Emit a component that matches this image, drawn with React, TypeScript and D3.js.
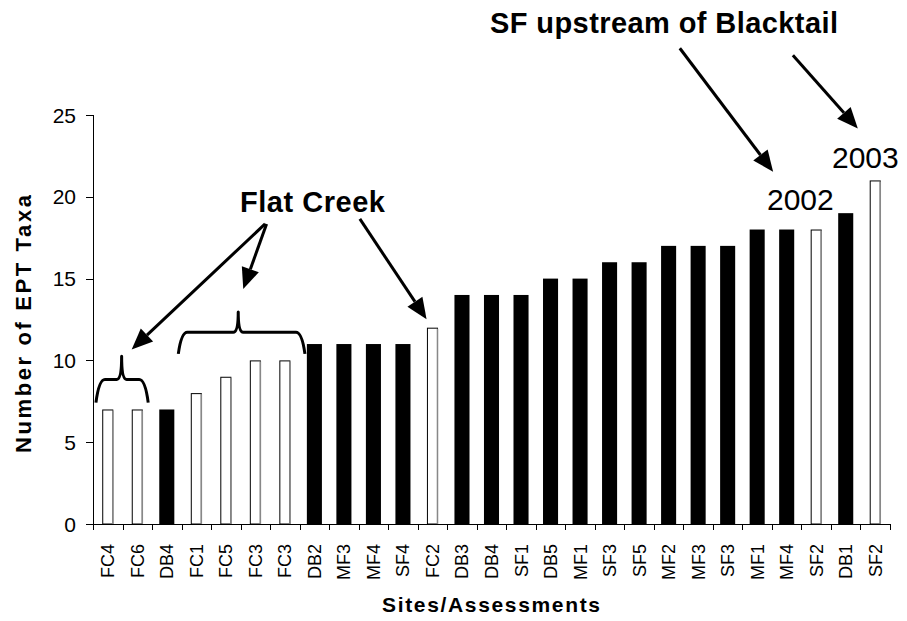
import React, { useEffect, useRef } from 'react';
import * as d3 from 'd3';

// sites in the order drawn, with EPT taxa counts
const sites = ['FC4', 'FC6', 'DB4', 'FC1', 'FC5', 'FC3', 'FC3', 'DB2', 'MF3', 'MF4', 'SF4', 'FC2', 'DB3', 'DB4', 'SF1', 'DB5', 'MF1', 'SF3', 'SF5', 'MF2', 'MF3', 'SF3', 'MF1', 'MF4', 'SF2', 'DB1', 'SF2'];
const taxa = [7, 7, 7, 8, 9, 10, 10, 11, 11, 11, 11, 12, 14, 14, 14, 15, 15, 16, 16, 17, 17, 17, 18, 18, 18, 19, 21];
// open (white) bars mark Flat Creek and SF upstream of Blacktail
const highlighted = [true, true, false, true, true, true, true, false, false, false, false, true, false, false, false, false, false, false, false, false, false, false, false, false, true, false, true];
const yTicks = [0, 5, 10, 15, 20, 25];

// annotation geometry in data units (category position, taxa count)
const braces = [
  { x0: 0.1, x1: 1.87, xm: 0.97, leg: 7.42, arm: 8.83, tip: 10.25 },
  { x0: 2.89, x1: 7.18, xm: 4.92, leg: 10.4, arm: 11.72, tip: 12.96 },
];
const arrows = [
  { from: [5.83, 18.34], to: [1.31, 10.67] },
  { from: [5.88, 18.34], to: [5.09, 14.36] },
  { from: [9.04, 18.65], to: [11.3, 12.52] },
  { from: [19.88, 29.08], to: [23.04, 21.53] },
  { from: [23.71, 28.65], to: [25.91, 24.17] },
];

const FONT = '"Liberation Sans", Arial, sans-serif';

const App = () => {
  const svgRef = useRef(null);

  useEffect(() => {
    const svg = d3.select(svgRef.current);
    svg.selectAll('*').remove();

    const left = 93, right = 890, top = 115, bottom = 524;

    const x = d3.scaleBand<number>()
      .domain(d3.range(sites.length))
      .range([left, right])
      .paddingInner(0.49)
      .paddingOuter(0.245);
    const xc = d3.scaleLinear().domain([0, sites.length]).range([left, right]);
    const y = d3.scaleLinear().domain([0, 25]).range([bottom, top]);

    // bars
    const bw = x.bandwidth();
    sites.forEach((s, i) => {
      const v = taxa[i];
      if (highlighted[i]) {
        const x0 = x(i) + 2;
        const w = bw - 4;
        svg.append('rect')
          .attr('x', x0 + 0.5).attr('y', y(v) + 0.5)
          .attr('width', w - 1).attr('height', bottom - y(v) - 0.5)
          .attr('fill', '#fff').attr('stroke', '#000').attr('stroke-width', 1);
        svg.append('line')
          .attr('x1', x0 + w - 0.5).attr('x2', x0 + w - 0.5)
          .attr('y1', y(v) + 1).attr('y2', bottom)
          .attr('stroke', '#888').attr('stroke-width', 1.5);
      } else {
        svg.append('rect')
          .attr('x', x(i)).attr('y', y(v))
          .attr('width', bw).attr('height', bottom - y(v))
          .attr('fill', '#000');
      }
    });

    // y axis
    svg.append('line')
      .attr('x1', left + 0.5).attr('x2', left + 0.5)
      .attr('y1', y(25)).attr('y2', bottom)
      .attr('stroke', '#000');
    yTicks.forEach(t => {
      svg.append('line')
        .attr('x1', left - 7).attr('x2', left)
        .attr('y1', Math.round(y(t)) + 0.5).attr('y2', Math.round(y(t)) + 0.5)
        .attr('stroke', '#000');
      svg.append('text')
        .attr('x', 76).attr('y', y(t)).attr('dy', '0.36em')
        .attr('text-anchor', 'end')
        .attr('font-family', FONT).attr('font-size', 21)
        .text(t);
    });

    // x axis
    svg.append('line')
      .attr('x1', left).attr('x2', right + 0.5)
      .attr('y1', bottom + 0.5).attr('y2', bottom + 0.5)
      .attr('stroke', '#000');
    d3.range(sites.length + 1).forEach(i => {
      const px = Math.round(xc(i)) + 0.5;
      svg.append('line')
        .attr('x1', px).attr('x2', px)
        .attr('y1', bottom).attr('y2', bottom + 6)
        .attr('stroke', '#000');
    });
    sites.forEach((s, i) => {
      const cx = x(i) + bw / 2;
      svg.append('text')
        .attr('transform', `translate(${cx},544) rotate(-90)`)
        .attr('dy', '0.36em')
        .attr('text-anchor', 'end')
        .attr('font-family', FONT).attr('font-size', 18)
        .text(s);
    });

    // axis titles
    svg.append('text')
      .attr('x', 382).attr('y', 612)
      .attr('textLength', 218).attr('lengthAdjust', 'spacing')
      .attr('font-family', FONT).attr('font-size', 21).attr('font-weight', 'bold')
      .text('Sites/Assessments');
    svg.append('text')
      .attr('transform', 'translate(31,453) rotate(-90)')
      .attr('textLength', 258).attr('lengthAdjust', 'spacing')
      .attr('font-family', FONT).attr('font-size', 22).attr('font-weight', 'bold')
      .text('Number of EPT Taxa');

    // annotation text
    svg.append('text')
      .attr('x', 240).attr('y', 212)
      .attr('textLength', 145).attr('lengthAdjust', 'spacing')
      .attr('font-family', FONT).attr('font-size', 29).attr('font-weight', 'bold')
      .text('Flat Creek');
    svg.append('text')
      .attr('x', 490).attr('y', 33)
      .attr('textLength', 348).attr('lengthAdjust', 'spacing')
      .attr('font-family', FONT).attr('font-size', 29).attr('font-weight', 'bold')
      .text('SF upstream of Blacktail');
    svg.append('text')
      .attr('x', 767).attr('y', 210)
      .attr('font-family', FONT).attr('font-size', 30)
      .text('2002');
    svg.append('text')
      .attr('x', 832).attr('y', 168)
      .attr('font-family', FONT).attr('font-size', 30)
      .text('2003');

    // braces
    braces.forEach(b => {
      const x0 = xc(b.x0), x1 = xc(b.x1), xm = xc(b.xm);
      const yl = y(b.leg), ya = y(b.arm), yt = y(b.tip);
      const path = d3.path();
      path.moveTo(x0, yl);
      path.quadraticCurveTo(x0 + 3, ya, x0 + 9, ya);
      path.lineTo(xm - 5, ya);
      path.quadraticCurveTo(xm, ya, xm, yt);
      path.quadraticCurveTo(xm, ya, xm + 5, ya);
      path.lineTo(x1 - 9, ya);
      path.quadraticCurveTo(x1 - 3, ya, x1, yl);
      svg.append('path')
        .attr('d', path.toString())
        .attr('fill', 'none').attr('stroke', '#000')
        .attr('stroke-width', 3).attr('stroke-linejoin', 'round');
    });

    // arrows
    const headLen = 21, headW = 9;
    arrows.forEach(a => {
      const sx = xc(a.from[0]), sy = y(a.from[1]);
      const tx = xc(a.to[0]), ty = y(a.to[1]);
      const ang = Math.atan2(ty - sy, tx - sx);
      const bx = tx - headLen * Math.cos(ang), by = ty - headLen * Math.sin(ang);
      const nx = -Math.sin(ang), ny = Math.cos(ang);
      svg.append('line')
        .attr('x1', sx).attr('y1', sy).attr('x2', bx).attr('y2', by)
        .attr('stroke', '#000').attr('stroke-width', 3);
      svg.append('path')
        .attr('d', `M${tx},${ty}L${bx + nx * headW},${by + ny * headW}L${bx - nx * headW},${by - ny * headW}Z`)
        .attr('fill', '#000');
    });
  }, []);

  return (
    <svg ref={svgRef} width={907} height={621}
      style={{ position: 'absolute', left: 0, top: 0, background: '#fff' }} />
  );
};

export default App;
